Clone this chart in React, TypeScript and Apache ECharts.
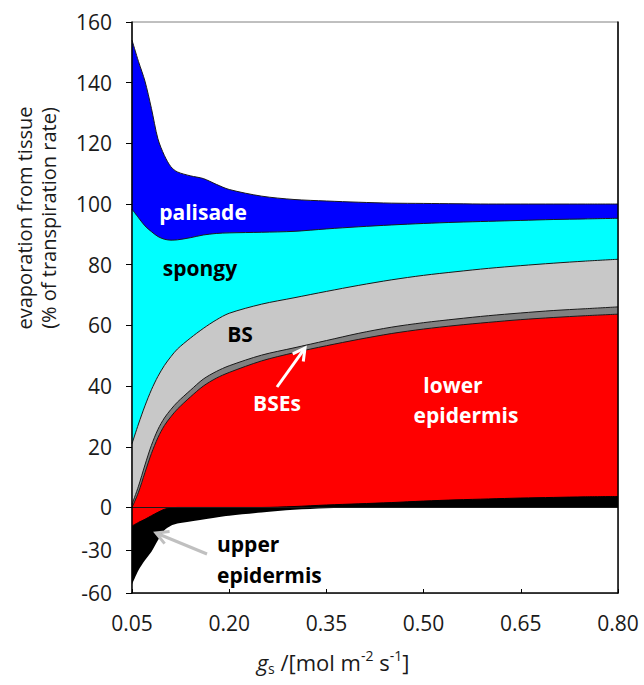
import React, { useEffect, useRef } from "react";
import * as echarts from "echarts";

// stomatal conductance gs (mol m-2 s-1)
const gs = [0.05, 0.06, 0.07, 0.08, 0.09, 0.1, 0.11, 0.12, 0.14, 0.16, 0.18, 0.2, 0.25, 0.3, 0.35, 0.4, 0.45, 0.5, 0.55, 0.6, 0.65, 0.7, 0.75, 0.8];

// cumulative boundaries (% of transpiration rate)
const palisadeTop = [154, 147, 140.5, 131.5, 121.5, 116, 112.3, 110.6, 109.3, 108.4, 106.5, 104.8, 102.6, 101.5, 101, 100.6, 100.3, 100.2, 100.1, 100, 100, 100, 100, 100];
const spongyTop = [98.3, 95.5, 92.8, 90.9, 89.3, 88.4, 88.1, 88.2, 88.9, 89.8, 90.3, 90.5, 90.7, 91, 91.8, 92.5, 93.1, 93.6, 94, 94.3, 94.6, 94.9, 95.1, 95.3];
const bsTop = [21, 27.5, 33.5, 38.8, 43.2, 46.8, 49.7, 52.2, 55.8, 59, 61.8, 64, 67, 69.1, 71.2, 73.2, 75, 76.5, 77.7, 78.8, 79.7, 80.5, 81.2, 81.8];
const bseTop = [1, 7, 14, 20.5, 25.7, 29.5, 32.3, 34.7, 38.6, 42.3, 44.8, 46.7, 50.2, 52.6, 55, 57.4, 59.4, 60.9, 62.1, 63.2, 64.1, 64.9, 65.5, 66.1];
const lowerEpidermisTop = [0, 5, 11.5, 17.8, 23, 27, 29.9, 32.4, 36.4, 40, 42.6, 44.5, 48.3, 51, 53.3, 55.4, 57.3, 58.8, 60, 61, 61.9, 62.6, 63.2, 63.7];
const upperEpidermisTop = [-13, -10.5, -8.3, -5.8, -3.4, -1.3, -0.3, 0, 0, 0, 0, 0, 0, 0.3, 0.8, 1.2, 1.6, 2.1, 2.5, 2.8, 3.1, 3.3, 3.5, 3.6];
const upperEpidermisBottom = [-54, -44, -37, -31, -23, -16, -12.8, -11.2, -9.8, -8.5, -7.1, -5.9, -3.6, -1.6, -0.5, 0, 0, 0, 0, 0, 0, 0, 0, 0];

const yTickValues = [-60, -30, 0, 20, 40, 60, 80, 100, 120, 140, 160];
const xTickValues = [0.05, 0.2, 0.35, 0.5, 0.65, 0.8];

// the negative part of the y axis is compressed
const K = 0.47;
const t = (v: number) => (v >= 0 ? v : v * K);
const inv = (v: number) => (v >= 0 ? v : v / K);

const FONT = "'Open Sans', 'Noto Sans', sans-serif";

function band(name: string, values: number[], color: string, lineColor: string, lineWidth: number) {
  return {
    type: "line",
    name,
    data: gs.map((x, i) => [x, t(values[i])]),
    smooth: 0.3,
    symbol: "none",
    silent: true,
    lineStyle: { color: lineColor, width: lineWidth },
    areaStyle: { color, opacity: 1, origin: "start" },
    z: 2,
  };
}

function chevron(tip: [number, number], from: [number, number], color: string, z: number) {
  const dx = tip[0] - from[0];
  const dy = tip[1] - from[1];
  const len = Math.hypot(dx, dy);
  const ux = dx / len, uy = dy / len;
  const px = -uy, py = ux;
  const hl = 12, hw = 6.5;
  const bx = tip[0] - hl * ux, by = tip[1] - hl * uy;
  return [
    { type: "line", z, shape: { x1: from[0], y1: from[1], x2: tip[0] - 2 * ux, y2: tip[1] - 2 * uy }, style: { stroke: color, lineWidth: 3 } },
    { type: "polyline", z, shape: { points: [[bx + hw * px, by + hw * py], tip, [bx - hw * px, by - hw * py]] }, style: { stroke: color, lineWidth: 3, fill: null } },
  ];
}

function label(text: string, x: number, y: number, color: string, align = "center") {
  return {
    type: "text",
    z: 100,
    x,
    y,
    style: { text, fill: color, font: `bold 21px ${FONT}`, align, verticalAlign: "middle" },
  };
}

export default function App() {
  const ref = useRef<HTMLDivElement>(null);
  useEffect(() => {
    if (!ref.current) return;
    const chart = echarts.init(ref.current, undefined, { renderer: "svg" });
    const yMin = t(-60);
    const option = {
      animation: false,
      backgroundColor: "#ffffff",
      grid: { left: 132, right: 26, top: 22, bottom: 92, show: true, borderColor: "#808080", borderWidth: 1 },
      xAxis: {
        type: "value",
        min: 0.05,
        max: 0.8,
        z: 5,
        axisLine: { show: true, onZero: false, lineStyle: { color: "#000", width: 1.5 } },
        axisTick: { show: true, inside: true, length: 4, customValues: xTickValues, lineStyle: { color: "#000" } },
        axisLabel: {
          customValues: xTickValues,
          formatter: (v: number) => v.toFixed(2),
          color: "#1a1a1a",
          fontSize: 21,
          fontFamily: FONT,
          margin: 19,
        },
        splitLine: { show: false },
      },
      yAxis: [
        {
          type: "value",
          min: yMin,
          max: 160,
          z: 5,
          axisLine: { show: true, onZero: false, lineStyle: { color: "#000", width: 1.5 } },
          axisTick: { show: true, inside: false, length: 6, customValues: yTickValues.map(t), lineStyle: { color: "#000" } },
          axisLabel: {
            customValues: yTickValues.map(t),
            formatter: (v: number) => String(Math.round(inv(v))),
            color: "#1a1a1a",
            fontSize: 21,
            fontFamily: FONT,
            margin: 20,
          },
          splitLine: { show: false },
        },
        {
          type: "value",
          position: "right",
          min: yMin,
          max: 160,
          z: 5,
          axisLine: { show: true, onZero: false, lineStyle: { color: "#000", width: 1.5 } },
          axisTick: { show: false },
          axisLabel: { show: false },
          splitLine: { show: false },
        },
      ],
      series: [
        band("palisade", palisadeTop, "#0000ff", "#1a1a1a", 1),
        band("spongy", spongyTop, "#00ffff", "#1a1a1a", 1),
        band("BS", bsTop, "#c8c8c8", "#1a1a1a", 1),
        band("BSEs", bseTop, "#808080", "#1a1a1a", 1),
        band("lower epidermis", lowerEpidermisTop, "#ff0000", "#1a1a1a", 1),
        band("upper epidermis", upperEpidermisTop, "#000000", "#000000", 1),
        {
          ...band("outside", upperEpidermisBottom, "#ffffff", "#000000", 0),
          markLine: {
            silent: true,
            symbol: "none",
            label: { show: false },
            lineStyle: { color: "#1a1a1a", width: 1, type: "solid" },
            data: [{ yAxis: 0 }],
          },
        },
      ],
      graphic: [
        {
          type: "text",
          z: 100,
          x: 24,
          y: 218,
          rotation: Math.PI / 2,
          style: { text: "evaporation from tissue", fill: "#1a1a1a", font: `20px ${FONT}`, align: "center", verticalAlign: "middle" },
        },
        {
          type: "text",
          z: 100,
          x: 48,
          y: 218,
          rotation: Math.PI / 2,
          style: { text: "(% of transpiration rate)", fill: "#1a1a1a", font: `20px ${FONT}`, align: "center", verticalAlign: "middle" },
        },
        {
          type: "text",
          z: 100,
          x: 333,
          y: 662,
          style: {
            text: "{g|g}{sub|s}{n| /[mol m}{sup|-2}{n| s}{sup|-1}{n|]}",
            align: "center",
            verticalAlign: "middle",
            rich: {
              g: { fontFamily: FONT, fontSize: 22, fontStyle: "italic", fill: "#1a1a1a" },
              n: { fontFamily: FONT, fontSize: 22, fill: "#1a1a1a" },
              sub: { fontFamily: FONT, fontSize: 14, fill: "#1a1a1a", padding: [13, 0, 0, 0] },
              sup: { fontFamily: FONT, fontSize: 14, fill: "#1a1a1a", padding: [0, 0, 13, 0] },
            },
          },
        },
        label("palisade", 203, 212, "#ffffff"),
        label("spongy", 200, 268, "#000000"),
        label("BS", 240, 334, "#000000"),
        label("BSEs", 277, 403, "#ffffff"),
        label("lower", 453, 385, "#ffffff"),
        label("epidermis", 466, 415, "#ffffff"),
        label("upper", 217, 544, "#000000", "left"),
        label("epidermis", 217, 575, "#000000", "left"),
        ...chevron([305, 348], [277, 387], "#ffffff", 100),
        ...chevron([156, 533], [207, 554], "#c0c0c0", 100),
      ],
    };
    chart.setOption(option as any);
    return () => chart.dispose();
  }, []);
  return <div ref={ref} style={{ position: "fixed", left: 0, top: 0, width: 644, height: 685 }} />;
}
